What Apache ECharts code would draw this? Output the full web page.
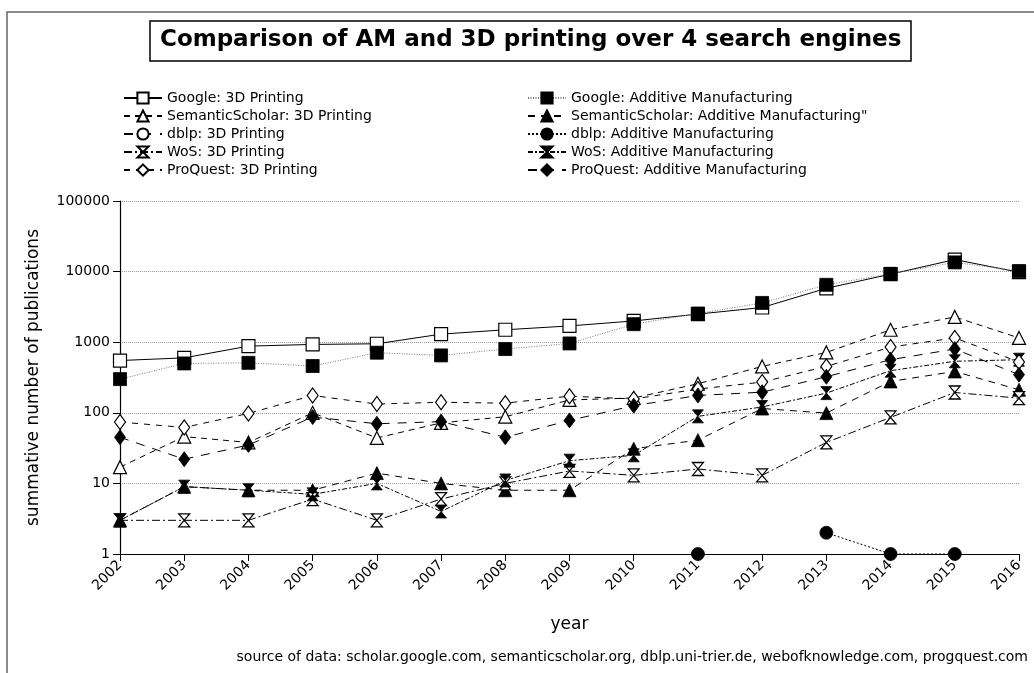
<!DOCTYPE html>
<html>
<head>
<meta charset="utf-8">
<script src="https://cdn.jsdelivr.net/npm/echarts@6/dist/echarts.min.js"></script>
<style>
  html, body { margin: 0; padding: 0; background: #fff; }
  #chart { width: 1034px; height: 673px; }
</style>
</head>
<body>
<div id="chart"></div>
<script>
'use strict';

var years = ['2002', '2003', '2004', '2005', '2006', '2007', '2008', '2009',
  '2010', '2011', '2012', '2013', '2014', '2015', '2016'];

// 3D printing
var google3d   = [550, 600, 880, 930, 950, 1300, 1500, 1700, 2000, 2500, 3100, 5800, 9200, 14800, 9800];
var semantic3d = [17, 46, 38, 100, 44, 72, 88, 152, 162, 258, 454, 716, 1500, 2280, 1150];
var dblp3d     = [null, null, null, null, null, null, null, null, null, null, null, null, null, null, null];
var wos3d      = [3, 3, 3, 6, 3, 6, 10, 15, 13, 16, 13, 38, 86, 194, 161];
var proquest3d = [74, 62, 98, 176, 133, 141, 137, 172, 157, 217, 272, 454, 853, 1150, 525];

// Additive Manufacturing
var googleAm   = [300, 500, 510, 460, 710, 650, 800, 960, 1800, 2550, 3600, 6500, 9300, 13500, 10200];
var semanticAm = [3, 9, 8, 8, 14, 10, 8, 8, 31, 41, 115, 99, 278, 385, 212];
var dblpAm     = [null, null, null, null, null, null, null, null, null, 1, null, 2, 1, 1, null];
var wosAm      = [3, 9, 8, 7, 10, 4, 11, 21, 25, 89, 121, 190, 395, 537, 565];
var proquestAm = [45, 22, 35, 87, 70, 75, 45, 78, 126, 176, 196, 324, 565, 800, 347];

var names3d = ['Google: 3D Printing', 'SemanticScholar: 3D Printing', 'dblp: 3D Printing',
  'WoS: 3D Printing', 'ProQuest: 3D Printing'];
var namesAm = ['Google: Additive Manufacturing', 'SemanticScholar: Additive Manufacturing"',
  'dblp: Additive Manufacturing', 'WoS: Additive Manufacturing', 'ProQuest: Additive Manufacturing'];

var FONT = 'DejaVu Sans';
var HOURGLASS = 'path://M0,0L10,0L0,10L10,10Z';

var chart = echarts.init(document.getElementById('chart'));

function mkSeries(name, data, symbol, size, filled, lineType, lineColor) {
  return {
    name: name,
    type: 'line',
    data: data,
    symbol: symbol,
    symbolSize: size,
    showAllSymbol: true,
    connectNulls: false,
    animation: false,
    lineStyle: { color: lineColor || '#000', width: 1, type: lineType },
    itemStyle: {
      color: filled ? '#000' : '#fff',
      borderColor: '#000',
      borderWidth: filled ? 0.8 : 1.2
    },
    emphasis: { disabled: true }
  };
}

var option = {
  animation: false,
  textStyle: { fontFamily: FONT },
  title: {
    text: 'Comparison of AM and 3D printing over 4 search engines',
    left: 150,
    top: 21,
    padding: [8, 10, 9, 10],
    borderColor: '#000',
    borderWidth: 1.5,
    textStyle: { fontFamily: FONT, fontSize: 23, fontWeight: 'bold', color: '#000' }
  },
  legend: [{
    data: names3d,
    orient: 'vertical',
    left: 118,
    top: 86,
    itemWidth: 38,
    itemHeight: 14,
    itemGap: 4,
    textStyle: { fontFamily: FONT, fontSize: 14, color: '#000' }
  }, {
    data: namesAm,
    orient: 'vertical',
    left: 522,
    top: 86,
    itemWidth: 38,
    itemHeight: 14,
    itemGap: 4,
    textStyle: { fontFamily: FONT, fontSize: 14, color: '#000' }
  }],
  grid: { left: 120, right: 15, top: 201, bottom: 119 },
  xAxis: {
    type: 'category',
    data: years,
    boundaryGap: false,
    name: 'year',
    nameLocation: 'middle',
    nameGap: 62,
    nameTextStyle: { fontFamily: FONT, fontSize: 17, color: '#000' },
    axisLine: { lineStyle: { color: '#000', width: 1.2 } },
    axisTick: { alignWithLabel: true, length: 7, lineStyle: { color: '#000' } },
    axisLabel: { rotate: 45, fontFamily: FONT, fontSize: 14, color: '#000', margin: 9 },
    splitLine: { show: false }
  },
  yAxis: {
    type: 'log',
    logBase: 10,
    min: 1,
    max: 100000,
    name: 'summative number of publications',
    nameLocation: 'middle',
    nameGap: 78,
    nameTextStyle: { fontFamily: FONT, fontSize: 17, color: '#000' },
    axisLine: { show: true, lineStyle: { color: '#000', width: 1.2 } },
    axisTick: { show: true, length: 7, lineStyle: { color: '#000' } },
    axisLabel: {
      fontFamily: FONT, fontSize: 14, color: '#000', margin: 10,
      formatter: function (v) { return String(Math.round(v)); }
    },
    splitLine: { show: true, lineStyle: { color: '#999', type: [1, 1], width: 1 } }
  },
  graphic: [{
    type: 'rect',
    shape: { x: 7, y: 12, width: 1040, height: 700 },
    style: { fill: 'none', stroke: '#666', lineWidth: 1.5 },
    silent: true
  }, {
    type: 'text',
    right: 6,
    top: 650,
    style: {
      text: 'source of data: scholar.google.com, semanticscholar.org, dblp.uni-trier.de, webofknowledge.com, progquest.com',
      font: '14px "DejaVu Sans"',
      fill: '#000'
    }
  }],
  series: [
    mkSeries(names3d[0], google3d, 'rect', 13, false, 'solid'),
    mkSeries(namesAm[0], googleAm, 'rect', 13, true, [1, 1.5], '#777'),
    mkSeries(names3d[1], semantic3d, 'triangle', [13, 13], false, [6, 5]),
    mkSeries(namesAm[1], semanticAm, 'triangle', [13, 13], true, [7, 6]),
    mkSeries(names3d[2], dblp3d, 'circle', 12, false, [9, 9]),
    mkSeries(namesAm[2], dblpAm, 'circle', 13, true, [2, 2]),
    mkSeries(names3d[3], wos3d, HOURGLASS, [11, 13], false, [8, 3, 2, 3]),
    mkSeries(namesAm[3], wosAm, HOURGLASS, [11, 13], true, [5, 2, 2, 2]),
    mkSeries(names3d[4], proquest3d, 'diamond', [11, 15], false, [6, 6]),
    mkSeries(namesAm[4], proquestAm, 'diamond', [11, 15], true, [9, 8])
  ]
};

chart.setOption(option);
</script>
</body>
</html>
